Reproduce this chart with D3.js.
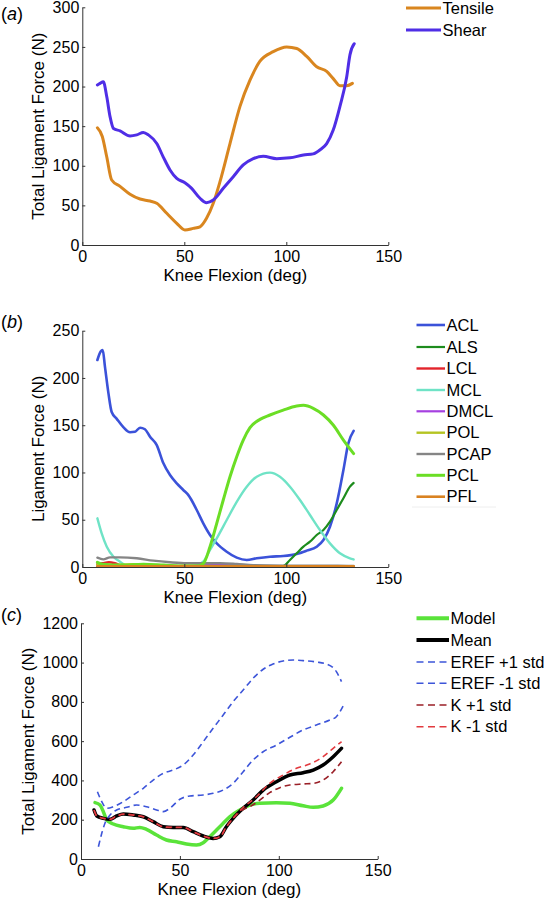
<!DOCTYPE html>
<html><head><meta charset="utf-8">
<script src="https://cdn.jsdelivr.net/npm/d3@7"></script>
<style>
body{margin:0;background:#fff}
svg{display:block}
text{font-family:"Liberation Sans",Arial,Helvetica,sans-serif;fill:#000}
</style>
</head><body>
<svg id="chart" width="544" height="900"></svg>
<script>
// ---------- tick labels ----------
const xTicks = [0, 50, 100, 150];
const yTicksA = [0, 50, 100, 150, 200, 250, 300];
const yTicksB = [0, 50, 100, 150, 200, 250];
const yTicksC = [0, 200, 400, 600, 800, 1000, 1200];

// ---------- panel (a) ----------
const tensile = [[7.4,148],[9.8,137],[12,111],[14.4,82],[18.5,74],[23.4,64],[28.3,58],[33.2,55.5],[36.5,52.6],[41.4,40],[46.3,27.4],[50.3,19],[54.4,21],[57.7,23],[60.9,33.7],[64.2,52.6],[67.5,80],[72.4,128],[77.3,175],[82.2,208],[87.1,232],[93.6,244],[100.2,250],[105.1,248],[110,238],[114.9,225],[119.8,219],[123,210],[126.3,201],[129.6,201],[132.4,204]];
const shear = [[7.4,202],[8.7,204],[10.3,206],[12,187],[13.6,162],[15.3,147],[18.5,144],[23.4,137.6],[26.7,139],[29.9,142],[32.4,139],[36.5,128],[39.7,111],[43,94.7],[46.3,84],[50.3,78.6],[53.6,71.5],[57.7,59],[60.9,53.4],[64.2,56.8],[69.1,71.5],[74,86.2],[78.9,101],[83.8,109],[88.7,112],[95.3,109],[101.8,110],[108.4,113.6],[113.2,115],[116.5,120],[119.8,128],[123,145],[126.3,175],[129.6,212],[131.2,240],[133.3,254]];

// ---------- panel (b) ----------
const acl = [[7.4,219],[9,228],[10,229.5],[11.1,212],[12.8,184],[14.4,164],[16.8,157],[20.1,148],[23.4,142.5],[25.8,143],[28.3,147.4],[30.7,145.7],[33.2,137.8],[36.5,129],[39.7,110],[43,97.3],[46.3,88.5],[49.5,81.5],[52,76],[56.1,60.3],[59.3,46.2],[62.6,33.9],[65.9,25],[70.8,16.2],[75.7,9.9],[80.6,7.4],[85.5,9.2],[92,10.9],[98.5,11.6],[105.1,13.8],[110,17.3],[114.9,21.5],[118.2,28.6],[121.4,42.6],[124.7,67],[128,102.6],[130.4,130.8],[133,144]];
const als = [[7.4,0.5],[30,0.5],[60,0.5],[90,0.5],[98.5,1],[101.8,7.4],[105.1,14.5],[108.4,21.5],[111.6,26.8],[114.9,33.9],[118.2,39.1],[121.4,47.9],[124.7,60.3],[128,72.7],[131.2,85],[133,89]];
const lcl = [[7.4,3],[10,4],[13,5],[16,4],[20,1],[30,0.5],[40,0.5],[60,1],[80,0.5],[100,0.3],[133,0.2]];
const mcl = [[7.4,51.5],[9.5,35.6],[12,21.5],[15.3,10.9],[18.5,5.6],[21.8,1.6],[30,1],[40,1],[50,1],[56,2],[59.3,5.6],[62.6,18],[65.9,30.3],[70.8,49.7],[75.7,69],[80.6,85],[85.5,95.5],[92,99.8],[96.9,95.5],[101.8,85],[106.7,70.9],[111.6,55],[116.5,39.1],[121.4,25],[126.3,14.5],[131.2,9.2],[133,8]];
const dmcl = [[7.4,0.5],[30,0.5],[55,1],[62,2.5],[70,2],[80,1.5],[95,0.5],[133,0.3]];
const pol = [[7.4,2.5],[15,2],[25,3],[35,2],[45,1],[55,1.5],[60,1],[80,0.3],[133,0.2]];
const pcap = [[7.4,9.9],[10.3,8.1],[13.6,10.2],[18.5,10.2],[26.7,9.2],[34.8,6.7],[43,5],[51.2,4],[59.3,4],[67.5,4],[75.7,3.2],[83.8,2],[100,1.5],[125,1.5],[133,1.2]];
const pcl = [[7.4,5],[10,3],[20,2],[30,3],[40,2],[50,1],[56,1],[59.3,3.6],[62.6,21.5],[65.9,46.2],[69.1,70.9],[72.4,95.5],[75.7,116.7],[78.9,134.3],[82.2,147.4],[87.1,156.2],[92,160.8],[98.5,166],[105.1,170.3],[108.4,171],[113.2,167.9],[118.2,160.8],[123,150.2],[128,134.3],[133,120]];
const pfl = [[7.4,0.8],[30,0.8],[60,0.8],[90,0.8],[133,0.8]];

// ---------- panel (c) ----------
const model = [[7.1,287],[9.6,275],[11.3,241],[13,199],[16.3,178],[21.4,164.5],[26.4,156],[29.7,161],[33.1,151],[38.2,122],[43.2,96.7],[48.3,88],[53.3,76.4],[58.4,71.3],[61.8,83],[65.1,113.5],[68.5,147.6],[71.9,181.8],[75.2,215],[80.3,249.5],[85.3,275],[90.4,283.6],[98.8,286.8],[105.6,283.6],[112.3,271],[117.4,263],[122.4,270],[127.5,300],[131.7,360]];
const mean = [[6.6,249.5],[8,219],[11.3,207],[14.7,202],[18,219],[21.4,229],[26.4,224],[31.5,215],[36.5,190],[41.6,164.5],[46.6,161],[51.7,161],[56.7,139],[61.8,117],[66.8,105],[70.2,113.5],[73.5,164.5],[76.9,207],[82,258],[87,300],[92.1,351],[98.8,393.6],[105.6,427.7],[112.3,439.4],[117.4,453],[122.4,478.6],[127.5,521],[131.7,563.6]];
const erefPlus = [[8.3,342.7],[10.5,291.8],[13,258],[16.3,266],[21.4,291.8],[26.4,326],[31.5,360],[36.5,402],[41.6,436],[46.6,453],[51.7,478.6],[56.7,529.5],[61.8,597],[66.8,665.5],[71.9,733],[76.9,801],[82,860.5],[87,920],[92.1,966],[97.1,993],[102.2,1008],[107.3,1013],[112.3,1010],[119,1003],[124.1,993],[129.1,954],[131.7,903]];
const erefMinus = [[8.8,62.6],[10.5,130.8],[12.1,181.8],[14.7,224],[18,249.5],[23.1,263],[28.1,275],[33.1,266],[38.2,249.5],[41.6,241],[44.9,258],[50,304],[55,320.8],[61.8,326],[66.8,334.5],[71.9,351],[76.9,385],[82,444.5],[87,504],[92.1,546],[98.8,580],[105.6,619.6],[112.3,657],[119,682],[125.8,707.7],[129.1,724.5],[132.5,779]];
const kPlus = [[6.6,249],[8,220],[11.3,208],[14.7,203],[18,220],[21.4,229],[26.4,225],[31.5,216],[36.5,191],[41.6,165],[46.6,162],[51.7,162],[56.7,140],[61.8,118],[66.8,106],[70.2,114],[73.5,165],[76.9,206],[82,252],[85.3,266],[90.4,300],[95.4,337.6],[100.5,363],[105.6,376.8],[112.3,381.9],[117.4,385],[122.4,402],[127.5,444.5],[131.7,495.4]];
const kMinus = [[6.6,250],[8,218],[11.3,206],[14.7,201],[18,218],[21.4,228],[26.4,223],[31.5,214],[36.5,189],[41.6,163],[46.6,160],[51.7,160],[56.7,138],[61.8,116],[66.8,104],[70.2,112],[73.5,163],[76.9,208],[82,262],[88.7,317],[95.4,385],[102.2,427.7],[108.9,461.8],[115.6,483.7],[122.4,521],[127.5,563.6],[131.7,597]];

const svg = d3.select("#chart");

function drawPanel(p) {
  const x = d3.scaleLinear().domain([0, 150]).range([p.x0, p.x1]);
  const y = d3.scaleLinear().domain([0, p.ymax]).range([p.yb, p.yt]);
  const g = svg.append("g");

  const line = d3.line().x(d => x(d[0])).y(d => y(d[1])).curve(d3.curveMonotoneX);
  p.series.forEach(s => {
    g.append("path").datum(s.data)
      .attr("fill", "none").attr("stroke", s.color).attr("stroke-width", s.w)
      .attr("stroke-dasharray", s.dash || null)
      .attr("stroke-linejoin", "round").attr("stroke-linecap", s.dash ? "butt" : "round")
      .attr("d", line);
  });

  const ax = g.append("g").attr("transform", `translate(0,${p.yb})`)
    .call(d3.axisBottom(x).tickValues(xTicks).tickFormat(d3.format("d")).tickSizeInner(-3).tickSizeOuter(0).tickPadding(6));
  const ay = g.append("g").attr("transform", `translate(${p.x0},0)`)
    .call(d3.axisLeft(y).tickValues(p.yTicks).tickFormat(d3.format("d")).tickSizeInner(-3).tickSizeOuter(0).tickPadding(3));
  [ax, ay].forEach(a => {
    a.selectAll("path,line").attr("stroke", "#333").attr("stroke-width", 1);
    a.selectAll("text").style("font-size", "16px").attr("fill", "#000");
  });

  g.append("text").attr("x", (p.x0 + p.x1) / 2).attr("y", p.yb + 36)
    .attr("text-anchor", "middle").style("font-size", "17px").text("Knee Flexion (deg)");
  g.append("text").attr("transform", `translate(${p.ylabX},${(p.yb + p.yt) / 2}) rotate(-90)`)
    .attr("text-anchor", "middle").attr("dy", "0.35em").style("font-size", "17px").text(p.ylabel);

  const tag = g.append("text").attr("x", 1).attr("y", p.tagY).attr("dy", "0.35em").style("font-size", "18px");
  tag.append("tspan").text("(");
  tag.append("tspan").style("font-style", "italic").text(p.tag);
  tag.append("tspan").text(")");

  p.series.forEach((s, i) => {
    const ly = p.legY[i];
    g.append("line").attr("x1", p.legX0).attr("x2", p.legX1).attr("y1", ly).attr("y2", ly)
      .attr("stroke", s.color).attr("stroke-width", s.lw || s.w).attr("stroke-dasharray", s.ldash || null);
    g.append("text").attr("x", p.legX1 + 1.5).attr("y", ly).attr("dy", "0.35em")
      .style("font-size", "16.5px").text(s.name);
  });
  if (p.legBox) {
    g.append("line").attr("x1", p.legBox[0]).attr("x2", p.legBox[1]).attr("y1", p.legBox[2]).attr("y2", p.legBox[2])
      .attr("stroke", "#eeeeee").attr("stroke-width", 1);
  }
}

drawPanel({
  x0: 82.3, x1: 388.3, yb: 245, yt: 7.3, ymax: 300, yTicks: yTicksA,
  ylabel: "Total Ligament Force (N)", ylabX: 38, tag: "a", tagY: 14,
  legX0: 406, legX1: 441, legY: [8, 30],
  series: [
    {name: "Tensile", data: tensile, color: "#d9861f", w: 3},
    {name: "Shear", data: shear, color: "#4f2ee6", w: 3}
  ]
});

drawPanel({
  x0: 82.3, x1: 388.3, yb: 567, yt: 330.7, ymax: 250, yTicks: yTicksB,
  ylabel: "Ligament Force (N)", ylabX: 38, tag: "b", tagY: 322,
  legX0: 416.5, legX1: 445, legY: [325, 347, 368.5, 390, 411.3, 432.7, 454, 475.3, 496.7],
  legBox: [412, 496, 507],
  series: [
    {name: "ACL", data: acl, color: "#3b52d9", w: 2.6},
    {name: "ALS", data: als, color: "#1d8c1d", w: 2.2},
    {name: "LCL", data: lcl, color: "#e3242b", w: 2.4},
    {name: "MCL", data: mcl, color: "#6fe3c6", w: 2.4},
    {name: "DMCL", data: dmcl, color: "#a640e0", w: 2.2},
    {name: "POL", data: pol, color: "#b5c422", w: 2.4},
    {name: "PCAP", data: pcap, color: "#858585", w: 2.4},
    {name: "PCL", data: pcl, color: "#6bde25", w: 3},
    {name: "PFL", data: pfl, color: "#d98221", w: 2.6}
  ]
});

drawPanel({
  x0: 81, x1: 377.7, yb: 859, yt: 623.3, ymax: 1200, yTicks: yTicksC,
  ylabel: "Total Ligament Force (N)", ylabX: 28, tag: "c", tagY: 615,
  legX0: 416.5, legX1: 449, legY: [618.3, 640, 662, 683.3, 705, 726.7],
  series: [
    {name: "Model", data: model, color: "#5ae33a", w: 3.5, lw: 4},
    {name: "Mean", data: mean, color: "#000000", w: 3.5, lw: 4},
    {name: "EREF +1 std", data: erefPlus, color: "#3d55d9", w: 1.6, dash: "6,4", ldash: "7,4.5"},
    {name: "EREF -1 std", data: erefMinus, color: "#3d55d9", w: 1.6, dash: "6,4", ldash: "7,4.5"},
    {name: "K +1 std", data: kPlus, color: "#9a1f27", w: 1.6, dash: "6,4", ldash: "7,4.5"},
    {name: "K -1 std", data: kMinus, color: "#e23a3f", w: 1.6, dash: "6,4", ldash: "7,4.5"}
  ]
});
</script>
</body></html>
